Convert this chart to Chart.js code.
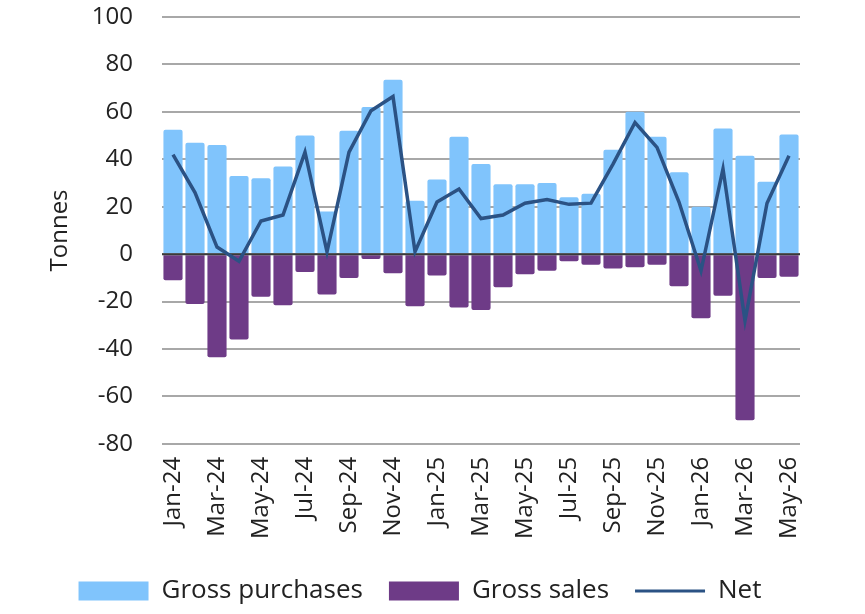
<!DOCTYPE html>
<html>
<head>
<meta charset="utf-8">
<script src="https://cdn.jsdelivr.net/npm/chart.js@4.4.1/dist/chart.umd.min.js"></script>
<style>
  html, body { margin: 0; padding: 0; background: #fff; }
  #wrap { width: 865px; height: 614px; position: relative; }
</style>
</head>
<body>
<div id="wrap"><canvas id="myChart"></canvas></div>
<script>
const months = ['Jan-24','Feb-24','Mar-24','Apr-24','May-24','Jun-24','Jul-24','Aug-24','Sep-24','Oct-24','Nov-24','Dec-24',
  'Jan-25','Feb-25','Mar-25','Apr-25','May-25','Jun-25','Jul-25','Aug-25','Sep-25','Oct-25','Nov-25','Dec-25',
  'Jan-26','Feb-26','Mar-26','Apr-26','May-26'];
const grossPurchases = [52.5, 47, 46, 33, 32, 37, 50, 18, 52, 62, 73.5, 22.5,
  31.5, 49.5, 38, 29.5, 29.5, 30, 24, 25.5, 44, 60, 49.5, 34.5,
  20, 53, 41.5, 30.5, 50.5];
const grossSales = [-11, -21, -43.5, -36, -18, -21.5, -7.5, -17, -10, -2, -8, -22,
  -9, -22.5, -23.5, -14, -8.5, -7, -3, -4.5, -6, -5.5, -4.5, -13.5,
  -27, -17.5, -70, -10, -9.5];
const net = [42, 26, 3, -3, 14, 16.5, 43, 1, 43, 60.5, 66.5, 1,
  22, 27.5, 15, 16.5, 21.5, 23, 21, 21.5, 38, 55.5, 45, 22,
  -7, 36, -28, 21.5, 41.5];

const FONT = "'Open Sans', 'Noto Sans', sans-serif";

// dark zero line, drawn over the bars but under the Net line
const zeroLine = {
  id: 'zeroLine',
  beforeDatasetDraw(chart, args) {
    if (args.index !== 2) return;
    const y = chart.scales.y.getPixelForValue(0);
    const { left, right } = chart.chartArea;
    const ctx = chart.ctx;
    ctx.save();
    ctx.strokeStyle = '#3a3a3a';
    ctx.lineWidth = 2;
    ctx.beginPath();
    ctx.moveTo(left, y);
    ctx.lineTo(right, y);
    ctx.stroke();
    ctx.restore();
  }
};

const ctx = document.getElementById('myChart').getContext('2d');
new Chart(ctx, {
  type: 'bar',
  data: {
    labels: months,
    datasets: [{
      label: 'Gross purchases',
      data: grossPurchases,
      backgroundColor: '#80C4FC',
      grouped: false,
      borderRadius: 2,
      categoryPercentage: 1,
      barPercentage: 0.87,
      order: 1
    }, {
      label: 'Gross sales',
      data: grossSales,
      backgroundColor: '#6E3B87',
      grouped: false,
      borderRadius: 2,
      categoryPercentage: 1,
      barPercentage: 0.87,
      order: 1
    }, {
      type: 'line',
      label: 'Net',
      data: net,
      borderColor: '#2B5284',
      backgroundColor: '#2B5284',
      borderWidth: 3.5,
      pointRadius: 0,
      tension: 0,
      order: 0
    }]
  },
  options: {
    responsive: true,
    maintainAspectRatio: false,
    animation: false,
    layout: { padding: { top: 4, left: 40, right: 65, bottom: 0 } },
    plugins: {
      legend: {
        position: 'bottom',
        labels: {
          font: { family: FONT, size: 26 },
          color: '#222',
          usePointStyle: true,
          pointStyleWidth: 70,
          boxHeight: 19,
          padding: 26,
          sort: (a, b) => a.datasetIndex - b.datasetIndex,
          generateLabels(chart) {
            const items = Chart.defaults.plugins.legend.labels.generateLabels(chart);
            items.forEach(it => {
              if (it.datasetIndex === 2) {
                it.pointStyle = 'line';
                it.lineWidth = 3;
                it.strokeStyle = '#2B5284';
              } else {
                it.pointStyle = 'rect';
                it.lineWidth = 0;
              }
            });
            return items;
          }
        }
      },
      tooltip: { enabled: false }
    },
    scales: {
      x: {
        grid: { display: false, drawTicks: false },
        border: { display: false },
        ticks: {
          autoSkip: false,
          minRotation: 90,
          maxRotation: 90,
          padding: 13,
          color: '#222',
          font: { family: FONT, size: 24 },
          callback(value, index) { return index % 2 === 0 ? months[index] : ''; }
        }
      },
      y: {
        min: -80,
        max: 100,
        grid: { color: '#a8a8a8', lineWidth: 2, drawTicks: false },
        border: { display: false },
        ticks: {
          stepSize: 20,
          padding: 29,
          color: '#222',
          font: { family: FONT, size: 24 }
        },
        title: {
          display: true,
          text: 'Tonnes',
          color: '#222',
          font: { family: FONT, size: 24 },
          padding: { top: 6, bottom: 0 }
        },
        afterFit(scale) {
          scale.width = 122;
          scale.paddingTop = 17;
          scale.paddingBottom = 14;
        }
      }
    }
  },
  plugins: [zeroLine]
});
</script>
</body>
</html>
